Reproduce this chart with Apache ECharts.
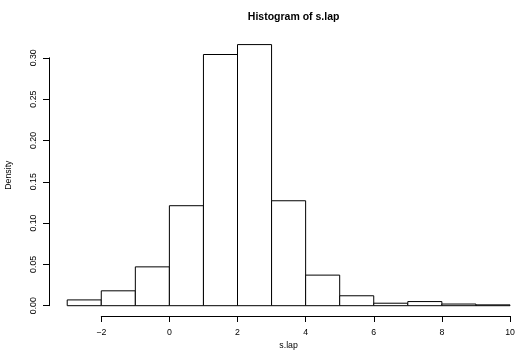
<!DOCTYPE html>
<html><head><meta charset="utf-8">
<script src="https://cdn.jsdelivr.net/npm/echarts@6/dist/echarts.min.js"></script>
<style>html,body{margin:0;padding:0;background:#fff}#c{width:516px;height:359px}</style>
</head><body><div id="c"></div>
<script>
const binStarts = [-3,-2,-1,0,1,2,3,4,5,6,7,8,9];
const binWidth = 1;
const densities = [0.007,0.018,0.047,0.121,0.304,0.316,0.127,0.037,0.012,0.003,0.005,0.002,0.001];
const xTicks = [-2,0,2,4,6,8,10];
const yTicks = [0,0.05,0.10,0.15,0.20,0.25,0.30];
const titleText = 'Histogram of s.lap';
const xLabel = 's.lap';
const yLabel = 'Density';

const FONT = 'Liberation Sans, Arial, Helvetica, sans-serif';
const fs = 8.75;
const chart = echarts.init(document.getElementById('c'), null, {renderer:'canvas'});
const hidden = {axisLine:{show:false},axisTick:{show:false},axisLabel:{show:false},splitLine:{show:false}};
chart.setOption({
  animation:false,
  backgroundColor:'#fff',
  title:{text:titleText,left:288.6,top:7,textAlign:'center',
    textStyle:{fontFamily:FONT,fontSize:10.5,fontWeight:'bold',color:'#000'}},
  grid:[
    {left:49.5,top:34.14,width:478.2,height:282.0,outerBoundsMode:'none',containLabel:false},
    {left:49,top:57.8,width:1,height:247.9,outerBoundsMode:'none',containLabel:false},
    {left:101.3,top:290,width:408.7,height:26,outerBoundsMode:'none',containLabel:false}
  ],
  xAxis:[
    Object.assign({type:'value',gridIndex:0,min:-3.52,max:10.52,name:xLabel,nameLocation:'middle',nameGap:25,
      nameTextStyle:{fontFamily:FONT,fontSize:fs,color:'#000'}},hidden),
    Object.assign({type:'value',gridIndex:1,min:0,max:1},hidden),
    {type:'value',gridIndex:2,min:xTicks[0],max:xTicks[xTicks.length-1],interval:2,position:'bottom',
      axisLine:{show:true,lineStyle:{color:'#000',width:1}},
      axisTick:{show:true,inside:false,length:6,lineStyle:{color:'#000'}},
      axisLabel:{show:true,margin:12,fontFamily:FONT,fontSize:fs,color:'#000',
        formatter:v=>xTicks.includes(v)?(v<0?'\u2212'+Math.abs(v):String(v)):''},
      splitLine:{show:false}}
  ],
  yAxis:[
    Object.assign({type:'value',gridIndex:0,min:-0.01264,max:0.32864,name:yLabel,nameLocation:'middle',nameGap:36,
      nameTextStyle:{fontFamily:FONT,fontSize:fs,color:'#000'}},hidden),
    {type:'value',gridIndex:1,min:0,max:0.3,interval:0.05,position:'left',
      axisLine:{show:true,lineStyle:{color:'#000',width:1}},
      axisTick:{show:true,length:6,lineStyle:{color:'#000'}},
      axisLabel:{show:true,rotate:90,margin:11,fontFamily:FONT,fontSize:fs,color:'#000',
        formatter:v=>v.toFixed(2)},
      splitLine:{show:false}},
    Object.assign({type:'value',gridIndex:2,min:0,max:1},hidden)
  ],
  series:[{
    type:'custom',xAxisIndex:0,yAxisIndex:0,clip:false,
    data:binStarts.map((b,i)=>[b,b+binWidth,densities[i]]),
    renderItem:function(params,api){
      const p0=api.coord([api.value(0),0]);
      const p1=api.coord([api.value(1),api.value(2)]);
      return {type:'rect',shape:{x:p0[0],y:p1[1],width:p1[0]-p0[0],height:p0[1]-p1[1]},
        style:{fill:'#fff',stroke:'#000',lineWidth:1}};
    }
  }]
});
</script></body></html>
